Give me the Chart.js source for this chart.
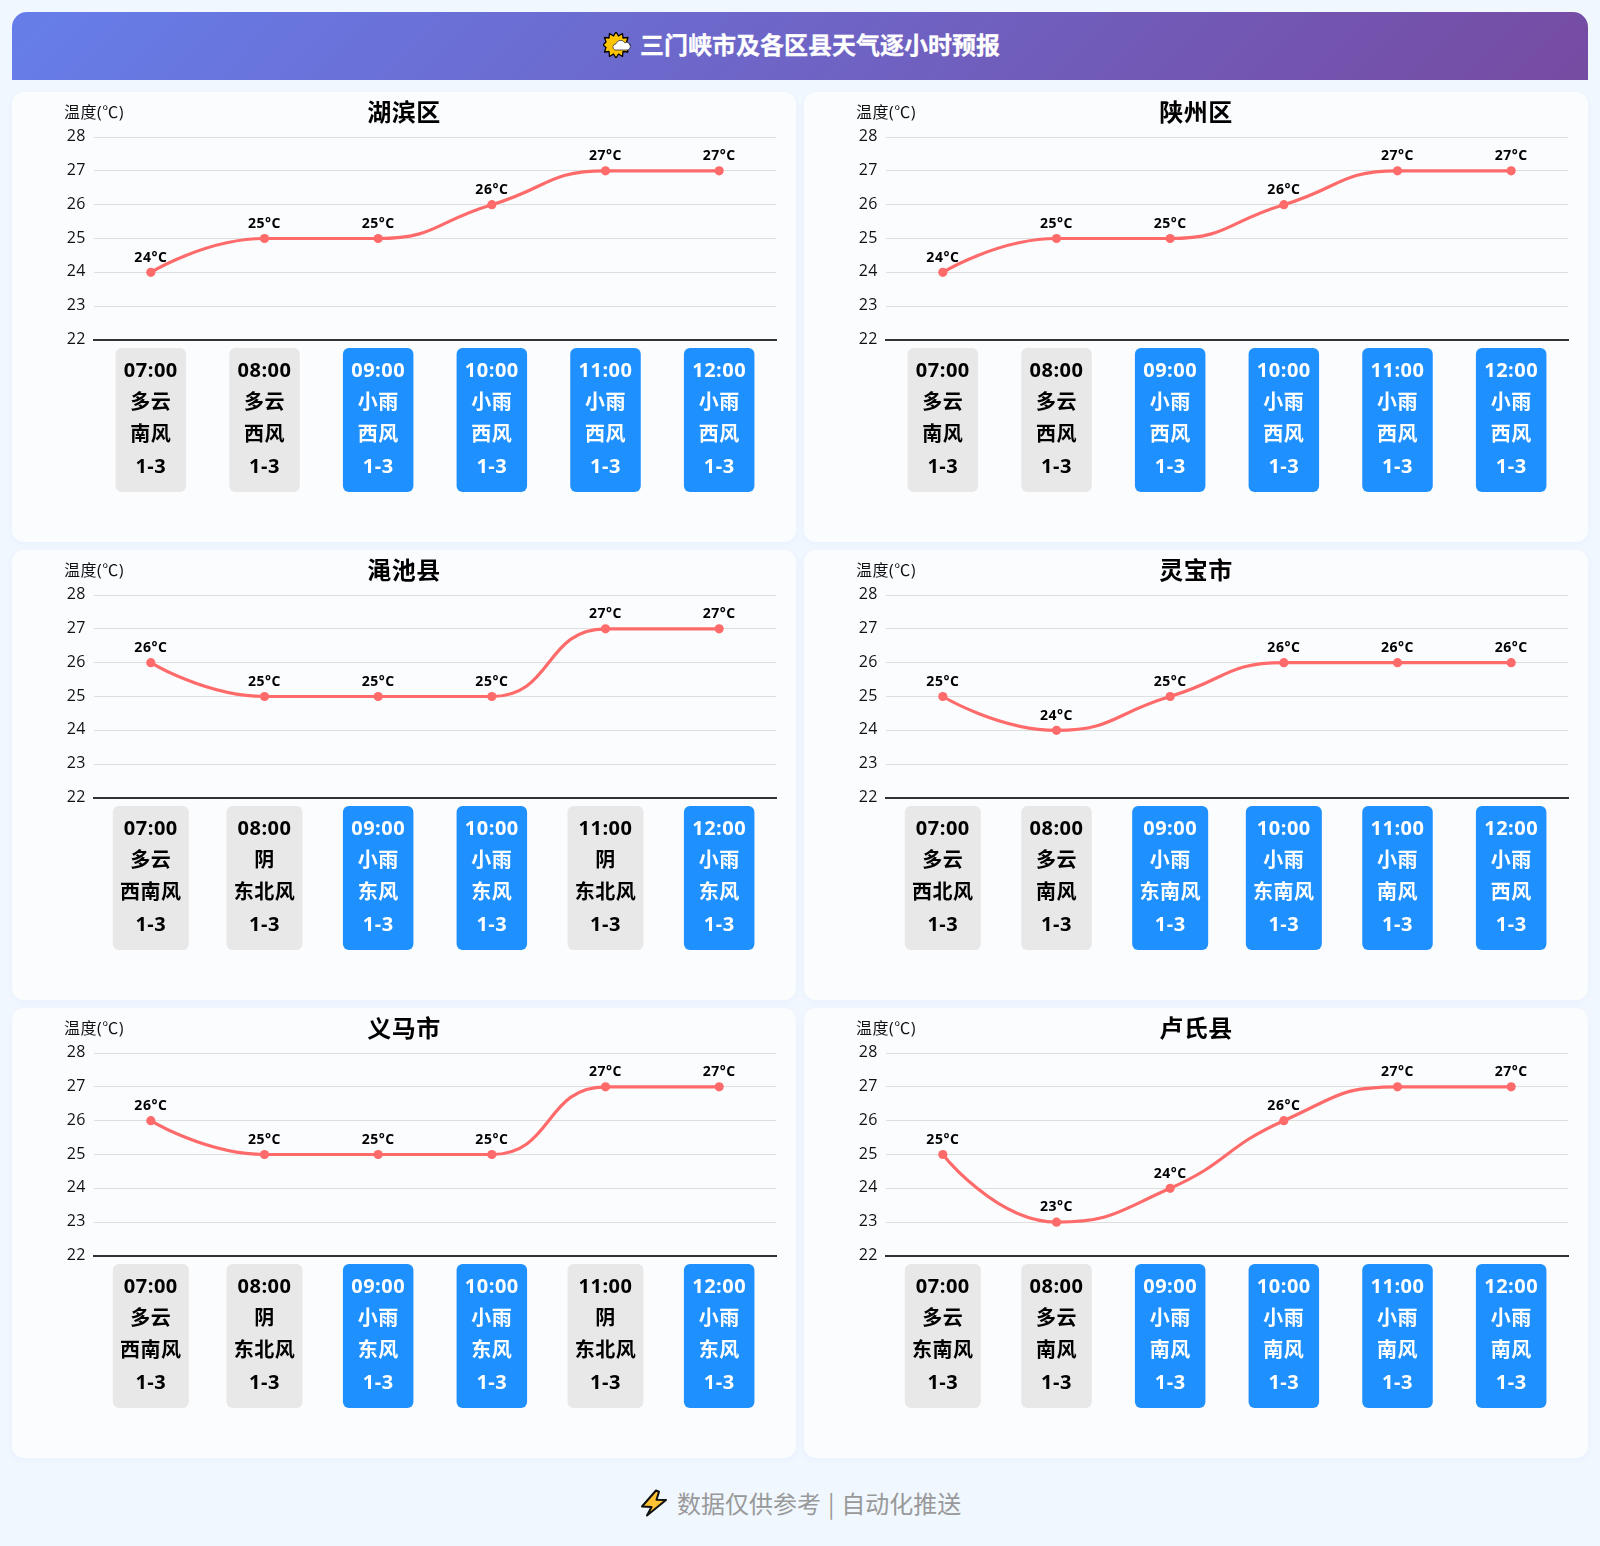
<!DOCTYPE html>
<html lang="zh"><head><meta charset="utf-8">
<script src="https://cdn.jsdelivr.net/npm/chart.js@4"></script>
<style>
*{box-sizing:border-box}
html,body{margin:0;padding:0;background:#f0f7ff}
body{width:1600px;height:1546px;overflow:hidden;font-family:"Open Sans","Noto Sans CJK SC",sans-serif;position:relative}
#hdr{position:absolute;left:12px;top:12px;width:1576px;height:68px;border-radius:15px 15px 0 0;
background:linear-gradient(135deg,#667eea 0%,#764ba2 100%)}
#hdr span{position:absolute;left:628px;top:15px;line-height:36px;color:#fff;font-size:24px;font-weight:700;white-space:nowrap;-webkit-text-stroke:.3px #fff}
#hdr svg{position:absolute;left:591px;top:20px}
#grid{position:absolute;left:12px;top:92px;display:grid;grid-template-columns:784px 784px;grid-auto-rows:450px;gap:8px}
.card{width:784px;height:450px;background:#fbfcfe;border-radius:12px;box-shadow:0 2px 6px rgba(30,90,200,.04)}
canvas{display:block}
#ftr{position:absolute;left:677px;top:1484px;color:#999;font-family:"Noto Sans CJK SC",sans-serif;font-size:24px;line-height:38px;word-spacing:1.5px;white-space:nowrap}
#bolt{position:absolute;left:640px;top:1489px}
</style></head><body>
<div id="hdr"><svg width="28" height="26" viewBox="0 0 28 26" role="img" aria-label="🌤">
<polygon points="13,0 15.5,4 19.5,1.5 20,6 25,5.5 23.5,10 27,13 23.5,15.5 25,20 20,19.5 19.5,24.5 15.5,22 13,26 10.5,22 6.5,24.5 6,19.5 1.5,20 3,15.5 0,13 3,10 1.5,5.5 6,6 6.5,1.5 10.5,4" fill="#ffc400" stroke="#000" stroke-width="1.3" stroke-linejoin="round"/>
<path d="M12 18a3.2 3.2 0 0 1 1-6.2 4.8 4.8 0 0 1 8.8-1 3.7 3.7 0 0 1 3 7.2z" fill="#fff" stroke="#333" stroke-width=".8"/></svg>
<span>三门峡市及各区县天气逐小时预报</span></div>
<div id="grid"></div>
<svg id="bolt" width="28" height="28" viewBox="0 0 28 28" role="img" aria-label="⚡"><path d="M16 1.5 2 17.5l9.5.5-4.5 8.5L26 11l-9.5-.3 2.5-8z" fill="#ffc233" stroke="#111" stroke-width="2" stroke-linejoin="round"/></svg>
<div id="ftr">数据仅供参考 | 自动化推送</div>
<script>
const FONT='"Open Sans","Noto Sans CJK SC",sans-serif';
const hours=['07:00','08:00','09:00','10:00','11:00','12:00'];
const districts=['湖滨区','陕州区','渑池县','灵宝市','义马市','卢氏县'];
const tempsHubin=[24,25,25,26,27,27];
const tempsShanzhou=[24,25,25,26,27,27];
const tempsMianchi=[26,25,25,25,27,27];
const tempsLingbao=[25,24,25,26,26,26];
const tempsYima=[26,25,25,25,27,27];
const tempsLushi=[25,23,24,26,27,27];
const skyHubin=['多云','多云','小雨','小雨','小雨','小雨'];
const skyShanzhou=['多云','多云','小雨','小雨','小雨','小雨'];
const skyMianchi=['多云','阴','小雨','小雨','阴','小雨'];
const skyLingbao=['多云','多云','小雨','小雨','小雨','小雨'];
const skyYima=['多云','阴','小雨','小雨','阴','小雨'];
const skyLushi=['多云','多云','小雨','小雨','小雨','小雨'];
const windHubin=['南风','西风','西风','西风','西风','西风'];
const windShanzhou=['南风','西风','西风','西风','西风','西风'];
const windMianchi=['西南风','东北风','东风','东风','东北风','东风'];
const windLingbao=['西北风','南风','东南风','东南风','南风','西风'];
const windYima=['西南风','东北风','东风','东风','东北风','东风'];
const windLushi=['东南风','南风','南风','南风','南风','南风'];
const windForce=['1-3','1-3','1-3','1-3','1-3','1-3'];
const allTemps=[tempsHubin,tempsShanzhou,tempsMianchi,tempsLingbao,tempsYima,tempsLushi];
const allSky=[skyHubin,skyShanzhou,skyMianchi,skyLingbao,skyYima,skyLushi];
const allWind=[windHubin,windShanzhou,windMianchi,windLingbao,windYima,windLushi];
const yAxisName='温度(℃)';
const SMOOTH=0.5;
const clamp=(v,a,b)=>Math.max(Math.min(v,Math.max(a,b)),Math.min(a,b));

const boxesPlugin={id:'boxes',beforeDraw(c,_,o){
  const ctx=c.ctx,x=c.scales.x;
  ctx.letterSpacing='0px';
  ctx.save();
  ctx.font='700 20px '+FONT;
  hours.forEach((h,i)=>{
    const w=Math.max(54.5,ctx.measureText(o.sky[i]).width,ctx.measureText(o.wind[i]).width)+16;
    const px=x.getPixelForTick(i);
    ctx.fillStyle=o.sky[i]==='小雨'?'#1e90ff':'#e8e8e8';
    ctx.beginPath();ctx.roundRect(px-w/2,x.top+8,w,144,6);ctx.fill();
  });
  ctx.restore();
  ctx.letterSpacing='0.5px';
},
// control points: clipped spline, first and last points without handles
beforeDatasetDraw(c){
  const m=c.getDatasetMeta(0),pts=m.data;
  m.dataset.updateControlPoints(c.chartArea);
  pts.forEach((p,i)=>{
    const a=pts[i-1],b=pts[i+1];
    if(!a||!b){
      if(!a){p.cp2x=p.x;p.cp2y=p.y}
      if(!b){p.cp1x=p.x;p.cp1y=p.y}
      return;
    }
    const l0=Math.hypot(p.x-a.x,p.y-a.y),l1=Math.hypot(b.x-p.x,b.y-p.y),r=l1/(l0+l1);
    let nx=clamp(p.x+(b.x-a.x)*SMOOTH*r,b.x,p.x),ny=clamp(p.y+(b.y-a.y)*SMOOTH*r,b.y,p.y);
    const px=clamp(p.x-(nx-p.x)*l0/l1,a.x,p.x),py=clamp(p.y-(ny-p.y)*l0/l1,a.y,p.y);
    nx=p.x+(p.x-px)*l1/l0;ny=p.y+(p.y-py)*l1/l0;
    p.cp1x=px;p.cp1y=py;p.cp2x=nx;p.cp2y=ny;
  });
}};
const labelsPlugin={id:'ptLabels',afterDatasetsDraw(c){
  const ctx=c.ctx,m=c.getDatasetMeta(0),d=c.data.datasets[0].data;ctx.save();
  ctx.font='700 14px '+FONT;ctx.fillStyle='#000';ctx.textAlign='center';ctx.textBaseline='middle';
  m.data.forEach((p,i)=>ctx.fillText(d[i]+'°C',p.x,p.y-14.8));
  ctx.font='400 16px '+FONT;ctx.fillStyle='#111';ctx.textAlign='left';
  ctx.fillText(yAxisName,52,21.5);
  ctx.restore();
}};
const grid=document.getElementById('grid');
districts.forEach((name,k)=>{
  const card=document.createElement('div');card.className='card';
  const cv=document.createElement('canvas');cv.width=784;cv.height=450;card.appendChild(cv);grid.appendChild(card);
  const sky=allSky[k],wind=allWind[k];
  new Chart(cv,{type:'line',
    data:{labels:hours,datasets:[{data:allTemps[k],borderColor:'#ff6b6b',backgroundColor:'#ff6b6b',borderWidth:3.2,
      pointRadius:4.6,pointBorderWidth:0,cubicInterpolationMode:'monotone',clip:false}]},
    options:{responsive:false,animation:false,devicePixelRatio:1,
      layout:{padding:{left:20,right:20,top:0,bottom:0}},
      plugins:{legend:{display:false},tooltip:{enabled:false},
        title:{display:true,text:name,color:'#000',font:{family:FONT,size:24,weight:'700',lineHeight:1.2},padding:{top:7.6,bottom:8.6}},
        boxes:{sky,wind}},
      scales:{
        x:{offset:true,
          grid:{display:false,drawTicks:false},
          border:{color:'#333',width:2},
          afterFit(s){s.height=202},
          ticks:{autoSkip:false,maxRotation:0,minRotation:0,padding:15.5,
            font:{family:FONT,size:20,weight:'700',lineHeight:1.6},
            color:c=>sky[c.index]==='小雨'?'#fff':'#000',
            callback:(v,i)=>[hours[i],sky[i],wind[i],windForce[i]]}},
        y:{min:22,max:28,
          grid:{color:'#dedede',lineWidth:1,drawTicks:false},
          border:{display:false},
          afterFit(s){s.width=62},
          ticks:{stepSize:1,padding:8,labelOffset:-0.5,color:'#111',font:{family:FONT,size:16}}}
      }},
    plugins:[boxesPlugin,labelsPlugin]});
});
</script></body></html>
